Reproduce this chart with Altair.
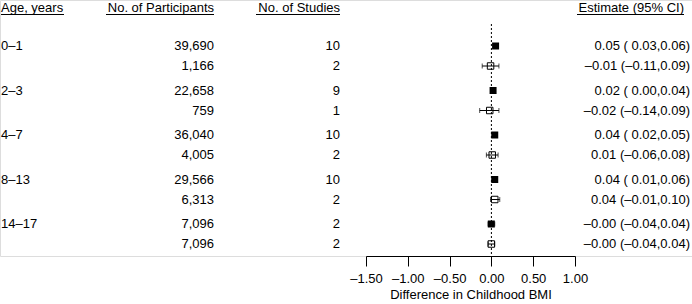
import altair as alt
import pandas as pd

# ---- data ----
age_labels = ["0–1", "", "2–3", "", "4–7", "", "8–13", "", "14–17", ""]
participants = [39690, 1166, 22658, 759, 36040, 4005, 29566, 6313, 7096, 7096]
studies = [10, 2, 9, 1, 10, 2, 10, 2, 2, 2]
estimate = [0.05, -0.01, 0.02, -0.02, 0.04, 0.01, 0.04, 0.04, -0.001, -0.001]
ci_low = [0.03, -0.11, 0.00, -0.14, 0.02, -0.06, 0.01, -0.01, -0.04, -0.04]
ci_high = [0.06, 0.09, 0.04, 0.09, 0.05, 0.08, 0.06, 0.10, 0.04, 0.04]
kind = ["filled", "hollow"] * 5

headers = ["Age, years", "No. of Participants", "No. of Studies", "Estimate (95% CI)"]
x_ticks = [-1.5, -1.0, -0.5, 0.0, 0.5, 1.0]
x_title = "Difference in Childhood BMI"

FONT = "Liberation Sans"
FS = 13


def dash(s):
    return s.replace("-", "–")


rows = []
for i in range(len(estimate)):
    rows.append({
        "pos": i + 0.225 * (i // 2),
        "age": age_labels[i],
        "n": f"{participants[i]:,}",
        "k": str(studies[i]),
        "est": estimate[i],
        "lo": ci_low[i],
        "hi": ci_high[i],
        "kind": kind[i],
        "label": dash(f"{estimate[i]:.2f} ({ci_low[i]:5.2f},{ci_high[i]:.2f})"),
    })
df = pd.DataFrame(rows)

yscale = alt.Scale(domain=[-2.3, 10.5], reverse=True, nice=False, zero=False)
xscale = alt.Scale(domain=[-1.5, 1.0], range=[366, 575], nice=False, zero=False)
xaxis = alt.Axis(
    values=x_ticks, title=x_title, grid=False,
    labelExpr="replace(replace(format(datum.value, '.2f'), '-', '–'), '−', '–')",
    domainColor="black", tickColor="black", labelColor="black", titleColor="black",
    tickSize=10, domainWidth=1, tickWidth=1,
    labelFont=FONT, labelFontSize=FS, titleFont=FONT, titleFontSize=FS,
    titleFontWeight="normal", labelPadding=6, titlePadding=3,
    labelFlush=False, labelOverlap=False,
)
Y = alt.Y("pos:Q", scale=yscale, axis=None)

base = alt.Chart(df)

def text_col(field, xpx, align):
    return base.mark_text(align=align, baseline="middle", font=FONT, fontSize=FS,
                          color="black").encode(x=alt.value(xpx), y=Y, text=f"{field}:N")

age_t = text_col("age", 1, "left")
n_t = text_col("n", 214, "right")
k_t = text_col("k", 340, "right")
est_t = text_col("label", 690, "right")

hdf = pd.DataFrame({
    "h": headers,
    "x": [1, 214, 340, 684],
    "x1": [1, 106, 256, 577],
    "x2": [64, 214, 340, 684],
    "al": ["left", "right", "right", "right"],
})
head_layers = []
for _, r in hdf.iterrows():
    head_layers.append(
        alt.Chart(pd.DataFrame({"h": [r["h"]]})).mark_text(
            align=r["al"], baseline="middle", font=FONT, fontSize=FS, color="black"
        ).encode(x=alt.value(int(r["x"])), y=alt.value(7.5), text="h:N")
    )
    head_layers.append(
        alt.Chart(pd.DataFrame({"h": [r["h"]]})).mark_rule(color="black", strokeWidth=1).encode(
            x=alt.value(int(r["x1"])), x2=alt.value(int(r["x2"])), y=alt.value(14.5)
        )
    )

zero_line = alt.Chart(pd.DataFrame({"z": [0.0]})).mark_rule(
    color="black", strokeDash=[2, 2], strokeWidth=1
).encode(x=alt.X("z:Q", scale=xscale, axis=xaxis), y=alt.value(24), y2=alt.value(256))

ci = base.mark_rule(color="black", strokeWidth=1).encode(
    x=alt.X("lo:Q", scale=xscale, axis=xaxis), x2="hi:Q", y=Y)
cap_lo = base.mark_tick(orient="vertical", size=5, thickness=1, color="black").encode(
    x=alt.X("lo:Q", scale=xscale, axis=xaxis), y=Y)
cap_hi = base.mark_tick(orient="vertical", size=5, thickness=1, color="black").encode(
    x=alt.X("hi:Q", scale=xscale, axis=xaxis), y=Y)

filled_sq = base.transform_filter(alt.datum.kind == "filled").mark_square(
    size=49, filled=True, color="black", opacity=1
).encode(x=alt.X("est:Q", scale=xscale, axis=xaxis), y=Y)
hollow_sq = base.transform_filter(alt.datum.kind == "hollow").mark_square(
    size=42, filled=False, color="black", strokeWidth=1, opacity=1
).encode(x=alt.X("est:Q", scale=xscale, axis=xaxis), y=Y)

chart = alt.layer(
    zero_line, ci, cap_lo, cap_hi, filled_sq, hollow_sq,
    age_t, n_t, k_t, est_t, *head_layers
).properties(
    width=692, height=256,
    padding={"left": 0, "top": 0, "right": 0, "bottom": 48},
    autosize=alt.AutoSizeParams(type="none"),
).configure_view(stroke=None).configure(background="white")

chart.save("out.html", embed_options={"renderer": "svg", "actions": False})
